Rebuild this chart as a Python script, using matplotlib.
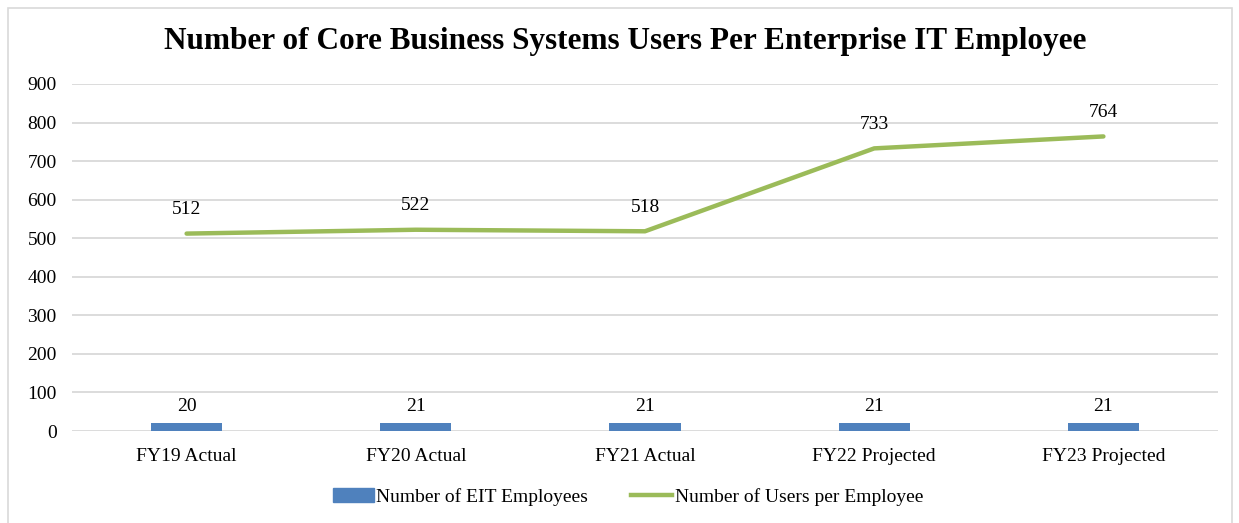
import matplotlib.pyplot as plt
from matplotlib.patches import Rectangle
from matplotlib.lines import Line2D
import numpy as np

years = ["FY19 Actual", "FY20 Actual", "FY21 Actual", "FY22 Projected", "FY23 Projected"]
eit_employees = [20, 21, 21, 21, 21]
users_per_employee = [512, 522, 518, 733, 764]

blue = "#4F81BD"
green = "#9BBB59"
grid_col = "#D9D9D9"

plt.rcParams['font.family'] = ['Liberation Serif', 'DejaVu Serif']

fig = plt.figure(figsize=(12.39, 5.23), dpi=100)
ax = fig.add_axes([72 / 1239, 1 - 431 / 523, 1146 / 1239, 347 / 523])

x = np.arange(len(years))
ax.bar(x, eit_employees, width=0.31, color=blue, zorder=3)
ax.plot(x, users_per_employee, color=green, lw=3.2, solid_capstyle='round', zorder=4)

for xi, v in zip(x, eit_employees):
    ax.annotate(str(v), (xi, v), xytext=(0, 6), textcoords='offset points',
                ha='center', va='bottom', fontsize=14)
for xi, v in zip(x, users_per_employee):
    ax.annotate(str(v), (xi, v), xytext=(0, 11), textcoords='offset points',
                ha='center', va='bottom', fontsize=14)

ax.set_xlim(-0.5, len(years) - 0.5)
ax.set_ylim(0, 900)
ax.set_yticks(range(0, 901, 100))
ax.set_xticks(x)
ax.set_xticklabels(years, fontsize=14)
ax.tick_params(axis='y', labelsize=14, length=0, pad=11)
ax.tick_params(axis='x', length=0, pad=12)
ax.grid(axis='y', color=grid_col, lw=1.3, zorder=0)
for s in ax.spines.values():
    s.set_visible(False)

fig.text(625 / 1239, 1 - 42 / 523, "Number of Core Business Systems Users Per Enterprise IT Employee",
         ha='center', va='center', fontsize=22.5, fontweight='bold')

handles = [Rectangle((0, 0), 1, 1, color=blue),
           Line2D([0], [0], color=green, lw=3.2)]
fig.legend(handles, ["Number of EIT Employees", "Number of Users per Employee"],
           loc='center', bbox_to_anchor=(628 / 1239, 1 - 497 / 523), ncol=2,
           frameon=False, fontsize=14, handlelength=2.1, handletextpad=0.15,
           columnspacing=2.2)

fig.patches.append(Rectangle((8 / 1239, -0.05), 1224 / 1239, 1.05 - 8 / 523,
                             transform=fig.transFigure, fill=False,
                             edgecolor="#D9D9D9", lw=1.2))

fig.savefig("out.png", dpi=100)
